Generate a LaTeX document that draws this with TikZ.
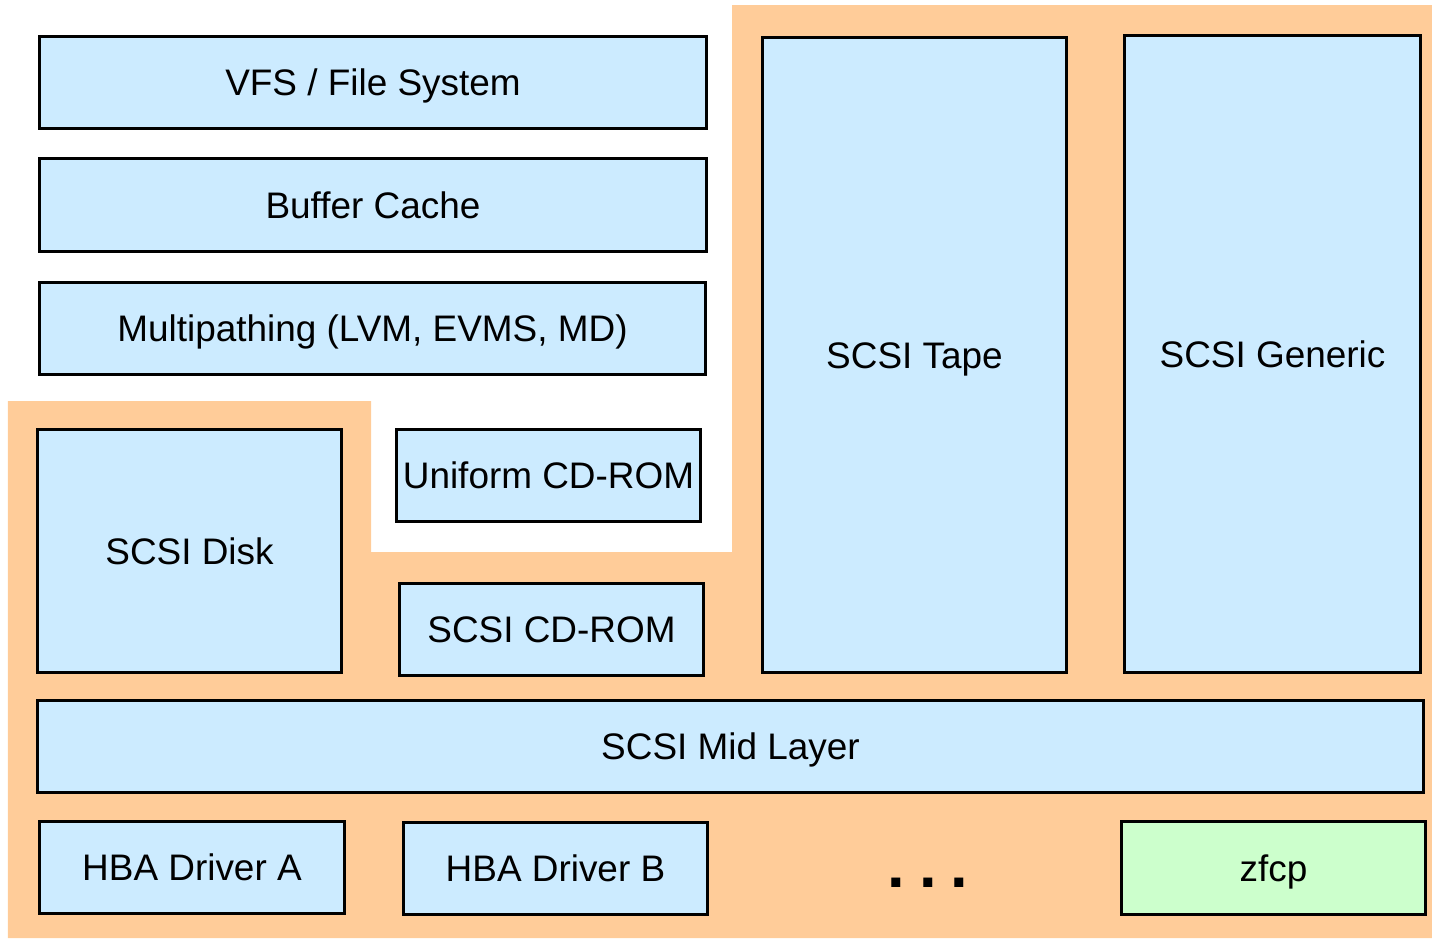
\documentclass[tikz,border=0pt]{standalone}
\usepackage{fontspec}
\setmainfont{Liberation Sans}
\definecolor{layerblue}{HTML}{CCEBFF}
\definecolor{stackorange}{HTML}{FFCC99}
\definecolor{drivergreen}{HTML}{CCFFCC}
\tikzset{
  layer/.style={draw=black, fill=layerblue, line width=0.85pt, inner sep=0pt,
    text height=9.5pt, text depth=2pt, font=\fontsize{10.5}{12}\selectfont},
  zfcpbox/.style={layer, fill=drivergreen}
}
\begin{document}
\begin{tikzpicture}[x=0.01cm, y=-0.01cm]

\useasboundingbox (0,0) rectangle (1432,938);

% scsi subsystem background
\fill [stackorange] (8,401) -- (371,401) -- (371,552) -- (732,552) -- (732,5)
  -- (1432,5) -- (1432,938) -- (8,938) -- cycle;

% upper layers
\node [layer, minimum width=6.66cm, minimum height=0.91cm] (vfs) at (373,82.5) {VFS / File System};
\node [layer, minimum width=6.66cm, minimum height=0.92cm] (cache) at (373,205) {Buffer Cache};
\node [layer, minimum width=6.65cm, minimum height=0.91cm] (multi) at (372.5,328.5) {Multipathing (LVM, EVMS, MD)};
\node [layer, minimum width=3.03cm, minimum height=0.91cm] (ucdrom) at (548.5,475.5) {Uniform CD-ROM};

% upper level scsi drivers
\node [layer, minimum width=3.03cm, minimum height=2.42cm] (disk) at (189.5,551) {SCSI Disk};
\node [layer, minimum width=3.03cm, minimum height=0.91cm] (cdrom) at (551.5,629.5) {SCSI CD-ROM};
\node [layer, minimum width=3.03cm, minimum height=6.34cm] (tape) at (914.5,355) {SCSI Tape};
\node [layer, minimum width=2.95cm, minimum height=6.36cm] (generic) at (1272.5,354) {SCSI Generic};

% mid layer
\node [layer, minimum width=13.85cm, minimum height=0.91cm] (mid) at (730.5,746.5) {SCSI Mid Layer};

% low level drivers
\node [layer, minimum width=3.04cm, minimum height=0.91cm] (hbaa) at (192,867.5) {HBA Driver A};
\node [layer, minimum width=3.03cm, minimum height=0.91cm] (hbab) at (555.5,868.5) {HBA Driver B};
\node [anchor=base, font=\fontsize{18}{20}\selectfont\bfseries] (dots) at (928,887) {.\hspace{4pt}.\hspace{4pt}.};
\node [zfcpbox, minimum width=3.03cm, minimum height=0.92cm] (zfcp) at (1273.5,868) {zfcp};

\end{tikzpicture}
\end{document}
